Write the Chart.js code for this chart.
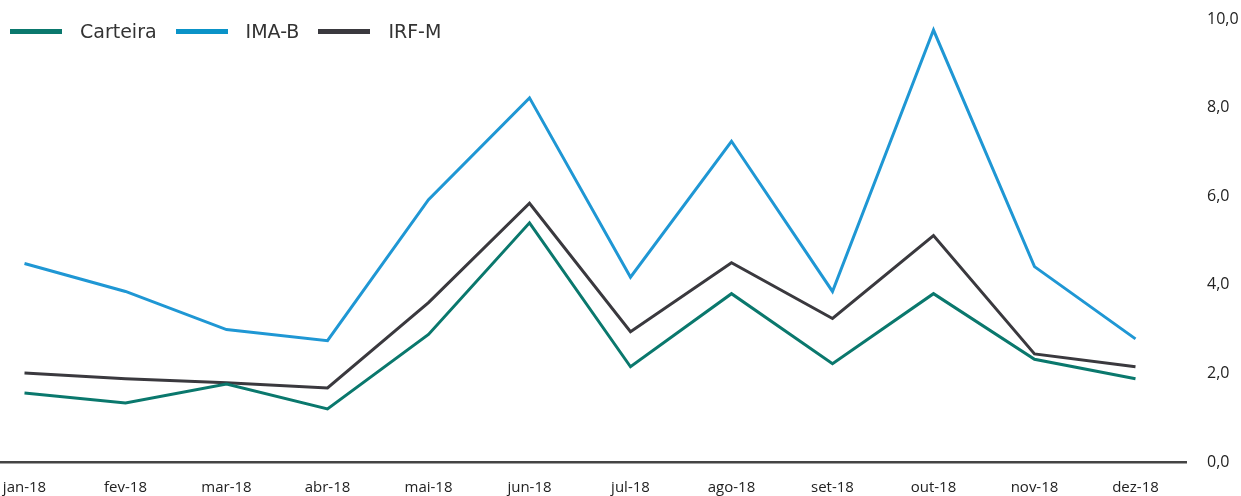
<!DOCTYPE html>
<html>
<head>
<meta charset="utf-8">
<script src="https://cdn.jsdelivr.net/npm/chart.js@4.4.1/dist/chart.umd.min.js"></script>
<style>
  html, body { margin: 0; padding: 0; background: #fff; overflow: hidden; }
  #wrap { position: absolute; left: -26px; top: 0; width: 1267px; height: 496px; }
  #legend { position: absolute; left: 10px; top: 20px; display: flex; align-items: center;
            font-family: "DejaVu Sans", Verdana, sans-serif; font-size: 19px; color: #333; }
  #legend .item { display: flex; align-items: center; margin-right: 19px; }
  #legend .swatch { width: 52px; height: 5px; margin-right: 18px; }
</style>
</head>
<body>
<div id="wrap"><canvas id="lineChart"></canvas></div>
<div id="legend"></div>
<script>
'use strict';

const months = ['jan-18', 'fev-18', 'mar-18', 'abr-18', 'mai-18', 'jun-18',
                'jul-18', 'ago-18', 'set-18', 'out-18', 'nov-18', 'dez-18'];
const carteira = [1.56, 1.33, 1.76, 1.20, 2.88, 5.40, 2.15, 3.80, 2.22, 3.80, 2.32, 1.88];
const imaB     = [4.48, 3.85, 2.99, 2.74, 5.92, 8.22, 4.17, 7.24, 3.85, 9.75, 4.41, 2.78];
const irfM     = [2.01, 1.88, 1.79, 1.67, 3.60, 5.84, 2.94, 4.50, 3.24, 5.11, 2.44, 2.15];
const yTicks   = [0, 2, 4, 6, 8, 10];

const line_data = {
  labels: months,
  datasets: [{
    label: 'Carteira',
    data: carteira,
    borderColor: '#0a786d',
    backgroundColor: '#0a786d'
  },
  {
    label: 'IMA-B',
    data: imaB,
    borderColor: '#1f97d4',
    backgroundColor: '#0a93c8'
  },
  {
    label: 'IRF-M',
    data: irfM,
    borderColor: '#3a393e',
    backgroundColor: '#3a393e'
  }]
};

// config
const line_config = {
  type: 'line',
  data: line_data,
  options: {
    responsive: true,
    maintainAspectRatio: false,
    animation: false,
    layout: { padding: { top: 19, left: 0, right: 0, bottom: 0 } },
    elements: {
      line: { borderWidth: 3, tension: 0, fill: false },
      point: { radius: 0 }
    },
    plugins: {
      legend: { display: false },
      tooltip: { enabled: false }
    },
    scales: {
      x: {
        offset: true,
        grid: { display: false, drawTicks: false },
        border: { display: true, color: '#444', width: 2.5 },
        ticks: {
          color: '#222',
          font: { family: '"Open Sans", "Noto Sans", sans-serif', size: 15 },
          padding: 17,
          maxRotation: 0,
          autoSkip: false
        },
        afterFit: scale => {
          scale.height = 34;
          scale.paddingLeft = 0;
          scale.paddingRight = 0;
        }
      },
      y: {
        position: 'right',
        min: 0,
        max: 10,
        afterBuildTicks: scale => { scale.ticks = yTicks.map(v => ({ value: v })); },
        grid: { display: false, drawTicks: false },
        border: { display: false },
        ticks: {
          color: '#222',
          font: { family: '"Open Sans", "Noto Sans", sans-serif', size: 16 },
          padding: 21,
          callback: v => v.toFixed(1).replace('.', ',')
        },
        afterFit: scale => {
          scale.width = 55;
          scale.paddingTop = 0;
          scale.paddingBottom = 0;
        }
      }
    }
  }
};

// render init block
const myLineChart = new Chart(
  document.getElementById('lineChart'),
  line_config
);

// html legend built from the datasets
const legendBox = document.getElementById('legend');
line_data.datasets.forEach(ds => {
  const item = document.createElement('div');
  item.className = 'item';
  const sw = document.createElement('span');
  sw.className = 'swatch';
  sw.style.background = ds.backgroundColor;
  const txt = document.createElement('span');
  txt.textContent = ds.label;
  item.appendChild(sw);
  item.appendChild(txt);
  legendBox.appendChild(item);
});
</script>
</body>
</html>
